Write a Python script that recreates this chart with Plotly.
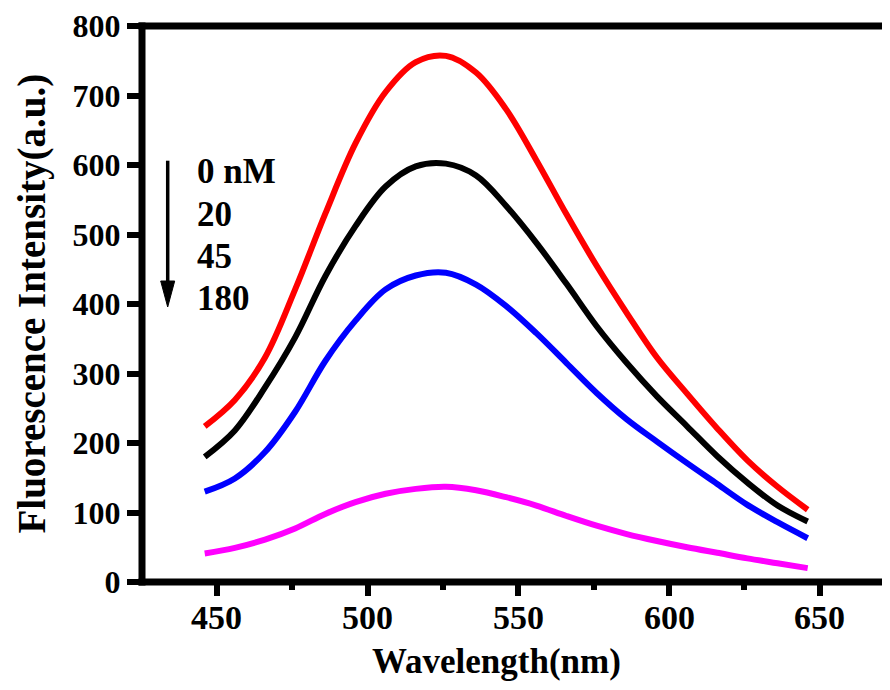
import plotly.graph_objects as go

wavelength = [446, 456, 466, 476, 486, 496, 506, 516, 526, 536, 546, 556, 566, 576, 586, 596, 606, 616, 626, 636, 646]
conc_0nM = [224, 262, 323, 421, 530, 631, 705, 748, 757, 733, 680, 607, 529, 455, 387, 323, 271, 221, 175, 137, 104]
conc_20nM = [180, 218, 280, 352, 440, 512, 569, 598, 602, 585, 541, 488, 429, 368, 315, 267, 224, 181, 143, 110, 87]
conc_45nM = [130, 149, 187, 245, 318, 376, 421, 441, 445, 428, 397, 358, 315, 272, 234, 202, 171, 141, 111, 86, 63]
conc_180nM = [41, 49, 61, 77, 98, 115, 127, 134, 137, 132, 122, 110, 95, 81, 69, 59, 50, 42, 34, 27, 20]

series_names = ["0 nM", "20", "45", "180"]
series_values = [conc_0nM, conc_20nM, conc_45nM, conc_180nM]
series_colors = ["#FF0000", "#000000", "#0000FF", "#FF00FF"]

x_ticks = [450, 500, 550, 600, 650]
x_tick_labels = ["450", "500", "550", "600", "650"]
y_ticks = [0, 100, 200, 300, 400, 500, 600, 700, 800]
y_tick_labels = ["0", "100", "200", "300", "400", "500", "600", "700", "800"]

OFF = 8  # page body margin offset
W, H = 890 - OFF, 690 - OFF
L, R, T, B = 142 - OFF, 0, 26 - OFF, 108
PW, PH = W - L - R, H - T - B
FONT = "Liberation Serif"


def px(x):
    # x: pixel position in the final screenshot
    return (x - OFF - L) / PW


def py(y):
    return (H - B - (y - OFF)) / PH


fig = go.Figure()
for name, vals, col in zip(series_names, series_values, series_colors):
    fig.add_trace(go.Scatter(x=wavelength, y=vals, mode="lines", name=name,
                             line=dict(color=col, width=6, shape="spline", smoothing=1.0),
                             showlegend=False))

shapes = []
lw = 7
# axis frame lines
shapes.append(dict(type="line", xref="paper", yref="paper", x0=-lw / 2 / PW, x1=1.02,
                   y0=0, y1=0, line=dict(color="black", width=lw)))
shapes.append(dict(type="line", xref="paper", yref="paper", x0=-lw / 2 / PW, x1=1.02,
                   y0=1, y1=1, line=dict(color="black", width=lw)))
shapes.append(dict(type="line", xref="paper", yref="paper", x0=0, x1=0,
                   y0=-lw / 2 / PH, y1=1 + lw / 2 / PH, line=dict(color="black", width=lw)))
# arrow
shapes.append(dict(type="line", xref="paper", yref="paper", x0=px(167.7), x1=px(167.7),
                   y0=py(160.7), y1=py(285), line=dict(color="black", width=3.5)))
shapes.append(dict(type="path", xref="paper", yref="paper",
                   path=f"M {px(160.7)},{py(281)} L {px(174.7)},{py(281)} L {px(167.7)},{py(307)} Z",
                   fillcolor="black", line=dict(color="black", width=1)))

annotations = []
label_y = [171, 214, 256, 298]
for name, yy in zip(series_names, label_y):
    annotations.append(dict(xref="paper", yref="paper", x=px(195), y=py(yy), text=name,
                            showarrow=False, xanchor="left", yanchor="middle",
                            font=dict(family=FONT, size=35, color="black", weight="bold")))
# x tick labels
for v, t in zip(x_ticks, x_tick_labels):
    annotations.append(dict(xref="x", yref="paper", x=v, y=py(617), text=t,
                            showarrow=False, xanchor="center", yanchor="middle",
                            font=dict(family=FONT, size=34, color="black", weight="bold")))
annotations.append(dict(xref="paper", yref="paper", x=px(496), y=py(661), text="Wavelength(nm)",
                        showarrow=False, xanchor="center", yanchor="middle",
                        font=dict(family=FONT, size=35, color="black", weight="bold")))
annotations.append(dict(xref="paper", yref="paper", x=px(31.5), y=py(304),
                        text="Fluorescence Intensity(a.u.)", textangle=-90,
                        showarrow=False, xanchor="center", yanchor="middle",
                        font=dict(family=FONT, size=39, color="black", weight="bold")))

fig.update_layout(
    width=W, height=H,
    margin=dict(l=L, r=R, t=T, b=B, pad=0),
    paper_bgcolor="white", plot_bgcolor="white",
    shapes=shapes, annotations=annotations,
    xaxis=dict(range=[425.2, 673.3], tickvals=x_ticks, showticklabels=False,
               ticks="outside", ticklen=13, tickwidth=6, tickcolor="black",
               showline=False, showgrid=False, zeroline=False, automargin=False,
               minor=dict(dtick=25, tick0=425, ticks="outside", ticklen=7, tickwidth=6,
                          tickcolor="black", showgrid=False)),
    yaxis=dict(range=[0, 800], tickvals=y_ticks, ticktext=y_tick_labels,
               ticks="outside", ticklen=14, tickwidth=6, tickcolor="black",
               showline=False, showgrid=False, zeroline=False, automargin=False,
               tickfont=dict(family=FONT, size=32, color="black", weight="bold")),
)

fig.write_html("out.html")
